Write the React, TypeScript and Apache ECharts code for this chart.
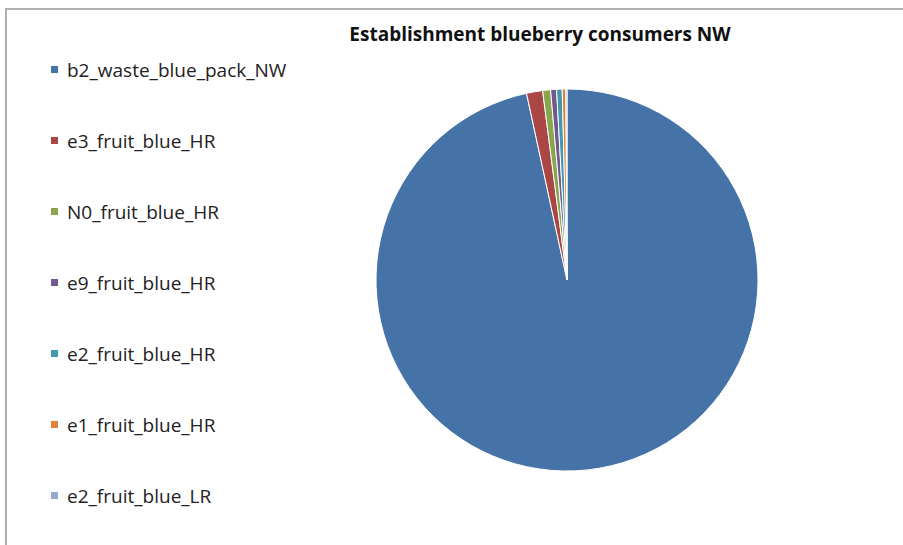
import React, { useEffect, useRef } from "react";
import * as echarts from "echarts";

const titleText = "Establishment blueberry consumers NW";
const categories = [
  "b2_waste_blue_pack_NW",
  "e3_fruit_blue_HR",
  "N0_fruit_blue_HR",
  "e9_fruit_blue_HR",
  "e2_fruit_blue_HR",
  "e1_fruit_blue_HR",
  "e2_fruit_blue_LR",
];
const values = [9660, 136, 67, 50, 47, 31, 9];
const colors = ["#4572A7", "#AA4643", "#89A54E", "#71588F", "#4198AF", "#DB843D", "#93A9CF"];

export default function App() {
  const ref = useRef<HTMLDivElement>(null);
  useEffect(() => {
    if (!ref.current) return;
    const chart = echarts.init(ref.current, null, { renderer: "svg" });
    chart.setOption({
      animation: false,
      backgroundColor: "#ffffff",
      color: colors,
      title: {
        text: titleText,
        left: 535,
        top: 19,
        textAlign: "center",
        textStyle: {
          fontFamily: "Open Sans",
          fontWeight: "bold",
          fontSize: 19,
          color: "#111",
        },
      },
      legend: {
        orient: "vertical",
        left: 49,
        top: 60,
        padding: 0,
        itemWidth: 9,
        itemHeight: 9,
        itemGap: 52,
        icon: "rect",
        textStyle: { fontFamily: "Open Sans", fontSize: 19, color: "#222", padding: [0, 0, 0, 3] },
        data: categories,
      },
      graphic: [
        {
          type: "polyline",
          shape: { points: [[6, 545], [6, 9], [903, 9]] },
          style: { stroke: "#b0b0b0", lineWidth: 2, fill: "none" },
          silent: true,
        },
      ],
      series: [
        {
          type: "pie",
          center: [567, 280],
          radius: 191,
          startAngle: 90,
          clockwise: true,
          label: { show: false },
          labelLine: { show: false },
          itemStyle: { borderColor: "#ffffff", borderWidth: 1 },
          emphasis: { disabled: true },
          data: categories.map((name, i) => ({ name, value: values[i] })),
        },
      ],
    });
    return () => chart.dispose();
  }, []);
  return <div ref={ref} style={{ position: "fixed", left: 0, top: 0, width: 903, height: 545 }} />;
}
